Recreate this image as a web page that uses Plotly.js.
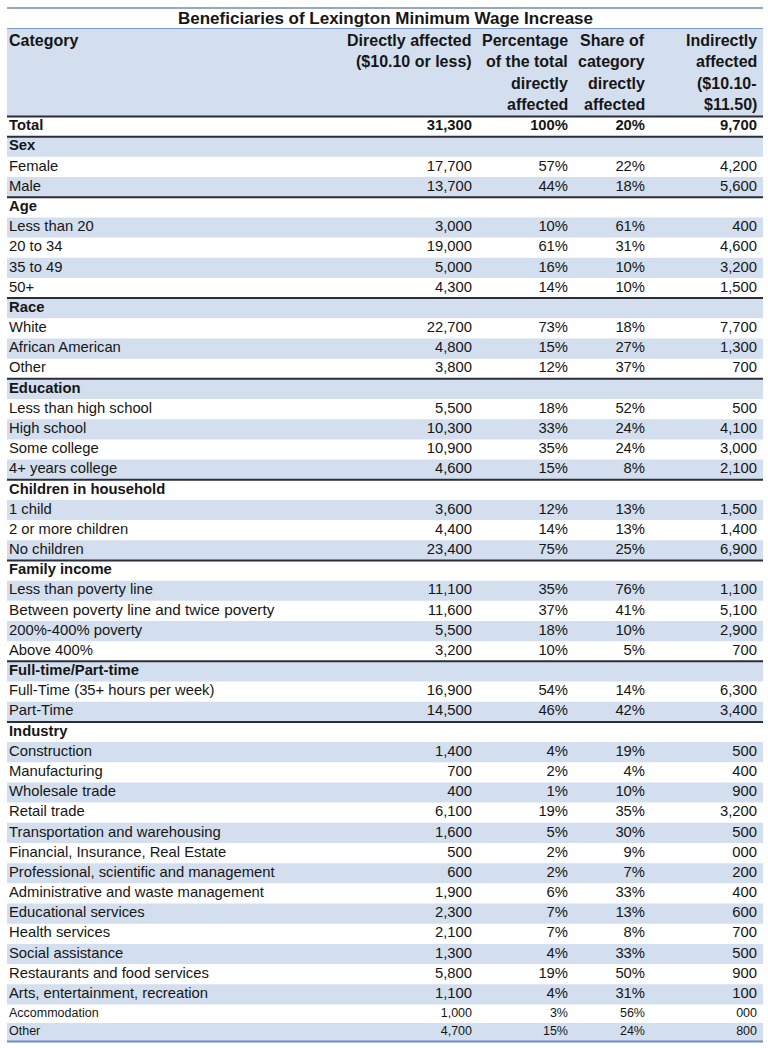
<!DOCTYPE html>
<html>
<head>
<meta charset="utf-8">
<script src="https://cdn.plot.ly/plotly-3.0.1.min.js"></script>
<style>html,body{margin:0;padding:0;background:#fff;}#chart{width:768px;height:1048px;}</style>
</head>
<body>
<div id="chart"></div>
<script>
// ---------- DATA ----------
const chartTitle = "Beneficiaries of Lexington Minimum Wage Increase";
const headerLabels = [
  ["Category"],
  ["Directly affected", "($10.10 or less)"],
  ["Percentage", "of the total", "directly", "affected"],
  ["Share of", "category", "directly", "affected"],
  ["Indirectly", "affected", "($10.10-", "$11.50)"]
];
const categories = [
  "Total","Sex","Female","Male","Age","Less than 20","20 to 34","35 to 49","50+",
  "Race","White","African American","Other","Education","Less than high school","High school",
  "Some college","4+ years college","Children in household","1 child","2 or more children","No children",
  "Family income","Less than poverty line","Between poverty line and twice poverty","200%-400% poverty","Above 400%",
  "Full-time/Part-time","Full-Time (35+ hours per week)","Part-Time","Industry","Construction","Manufacturing",
  "Wholesale trade","Retail trade","Transportation and warehousing","Financial, Insurance, Real Estate",
  "Professional, scientific and management","Administrative and waste management","Educational services",
  "Health services","Social assistance","Restaurants and food services","Arts, entertainment, recreation",
  "Accommodation","Other"
];
const directlyAffected = [
  "31,300","","17,700","13,700","","3,000","19,000","5,000","4,300",
  "","22,700","4,800","3,800","","5,500","10,300","10,900","4,600",
  "","3,600","4,400","23,400","","11,100","11,600","5,500","3,200",
  "","16,900","14,500","","1,400","700","400","6,100","1,600","500",
  "600","1,900","2,300","2,100","1,300","5,800","1,100","1,000","4,700"
];
const pctOfTotal = [
  "100%","","57%","44%","","10%","61%","16%","14%",
  "","73%","15%","12%","","18%","33%","35%","15%",
  "","12%","14%","75%","","35%","37%","18%","10%",
  "","54%","46%","","4%","2%","1%","19%","5%","2%",
  "2%","6%","7%","7%","4%","19%","4%","3%","15%"
];
const shareOfCategory = [
  "20%","","22%","18%","","61%","31%","10%","10%",
  "","18%","27%","37%","","52%","24%","24%","8%",
  "","13%","13%","25%","","76%","41%","10%","5%",
  "","14%","42%","","19%","4%","10%","35%","30%","9%",
  "7%","33%","13%","8%","33%","50%","31%","56%","24%"
];
const indirectlyAffected = [
  "9,700","","4,200","5,600","","400","4,600","3,200","1,500",
  "","7,700","1,300","700","","500","4,100","3,000","2,100",
  "","1,500","1,400","6,900","","1,100","5,100","2,900","700",
  "","6,300","3,400","","500","400","900","3,200","500","000",
  "200","400","600","700","500","900","100","000","800"
];

// ---------- LAYOUT / STYLE ----------
const W = 768, H = 1048;
const tableLeft = 7, tableRight = 763;
const topLineY = 8, titleLineY = 28.5, headerBottom = 116.5;
const headFirstLine = 40.5, headLineGap = 21.3;
const rowH = 20.18, smallRowH = 18.6, smallFrom = 44;
const wideRow = 24;   // this label is set slightly wider in the original
const colX = [9, 472, 568, 645, 757];
const shade = "rgb(211,223,238)";
const ink = "#161616";
const bodyFont = "Liberation Sans, Arial, sans-serif";

const n = categories.length;
const isGroup = directlyAffected.map((v, i) => v === "" && i > 0);
const tops = [], centers = [], bottoms = [];
let y = headerBottom;
for (let i = 0; i < n; i++) {
  const h = i >= smallFrom ? smallRowH : rowH;
  tops.push(y); centers.push(y + h / 2); bottoms.push(y + h);
  y += h;
}
const sizes = categories.map((c, i) => i >= smallFrom ? 12.5 : 14.8);
const catSizes = categories.map((c, i) => i >= smallFrom ? 12.5 : (i === wideRow ? 15.3 : 14.8));
const bold = (s, i) => (i === 0 || isGroup[i]) && s !== "" ? "<b>" + s + "</b>" : s;

const shapes = [];
shapes.push({type:"rect", xref:"x", yref:"y", x0:tableLeft, x1:tableRight, y0:titleLineY, y1:headerBottom, fillcolor:shade, line:{width:0}, layer:"below"});
for (let i = 0; i < n; i++) {
  if (i % 2 === 1) shapes.push({type:"rect", xref:"x", yref:"y", x0:tableLeft, x1:tableRight, y0:tops[i], y1:bottoms[i], fillcolor:shade, line:{width:0}, layer:"below"});
}
shapes.push({type:"line", xref:"x", yref:"y", x0:tableLeft, x1:tableRight, y0:topLineY, y1:topLineY, line:{color:"rgb(150,168,192)", width:2}});
shapes.push({type:"line", xref:"x", yref:"y", x0:tableLeft, x1:tableRight, y0:titleLineY, y1:titleLineY, line:{color:"rgb(125,155,205)", width:1}});
for (let i = 0; i < n; i++) {
  if (i === 0 || isGroup[i]) shapes.push({type:"line", xref:"x", yref:"y", x0:tableLeft, x1:tableRight, y0:tops[i], y1:tops[i], line:{color:"#2a2d3a", width:2}});
}
shapes.push({type:"line", xref:"x", yref:"y", x0:tableLeft, x1:tableRight, y0:bottoms[n-1], y1:bottoms[n-1], line:{color:"rgb(110,140,200)", width:2}});

const cols = [categories, directlyAffected, pctOfTotal, shareOfCategory, indirectlyAffected];
const traces = cols.map((col, c) => ({
  type: "scatter", mode: "text",
  x: col.map(() => colX[c]), y: centers,
  text: col.map(bold),
  textposition: c === 0 ? "middle right" : "middle left",
  textfont: {family: bodyFont, size: c === 0 ? catSizes : sizes, color: ink},
  hoverinfo: "skip", showlegend: false, cliponaxis: false
}));

const annotations = [];
annotations.push({xref:"x", yref:"y", x:(tableLeft+tableRight)/2, y:(topLineY+titleLineY)/2 + 0.5, text:"<b>"+chartTitle+"</b>", showarrow:false, xanchor:"center", yanchor:"middle", font:{family:bodyFont, size:17, color:ink}});
headerLabels.forEach((lines, c) => {
  lines.forEach((line, k) => {
    annotations.push({xref:"x", yref:"y", x:colX[c] + (c === 0 ? -1 : 1), y:headFirstLine + k * headLineGap, text:"<b>"+line+"</b>", showarrow:false,
      xanchor: c === 0 ? "left" : "right", yanchor:"middle", font:{family:bodyFont, size:16, color:ink}, borderpad:0});
  });
});

Plotly.newPlot("chart", traces, {
  width: W, height: H,
  margin: {l:0, r:0, t:0, b:0},
  paper_bgcolor: "#fff", plot_bgcolor: "#fff",
  xaxis: {range:[0, W], visible:false, fixedrange:true},
  yaxis: {range:[H, 0], visible:false, fixedrange:true},
  shapes: shapes, annotations: annotations
}, {staticPlot:true});
</script>
</body>
</html>
